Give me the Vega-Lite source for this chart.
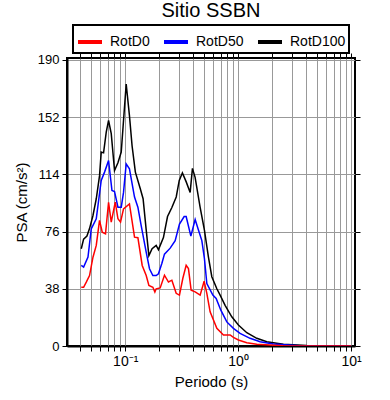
{
"$schema": "https://vega.github.io/schema/vega-lite/v6.json",
"autosize": {"type": "none"},
"width": 288, "height": 288,
"padding": {"left": 67, "top": 58, "right": 35, "bottom": 54},
"background": "white",
"title": {"text": "Sitio SSBN", "fontSize": 20, "font": "Liberation Sans", "fontWeight": "normal", "anchor": "middle", "offset": 3, "color": "black"},
"config": {"view": {"stroke": "black", "strokeWidth": 2}, "font": "Liberation Sans"},
"data": {"values": [
{"c":"RotD100","T":0.0408,"psa":64.6},{"c":"RotD100","T":0.0428,"psa":71},{"c":"RotD100","T":0.0458,"psa":73},{"c":"RotD100","T":0.0483,"psa":78},{"c":"RotD100","T":0.0518,"psa":86.7},{"c":"RotD100","T":0.0554,"psa":97.8},{"c":"RotD100","T":0.0592,"psa":113},{"c":"RotD100","T":0.0613,"psa":128.8},{"c":"RotD100","T":0.0643,"psa":128.3},{"c":"RotD100","T":0.0679,"psa":142},{"c":"RotD100","T":0.0712,"psa":149.8},{"c":"RotD100","T":0.0752,"psa":141},{"c":"RotD100","T":0.0804,"psa":116.6},{"c":"RotD100","T":0.0862,"psa":121.7},{"c":"RotD100","T":0.0922,"psa":128.8},{"c":"RotD100","T":0.102,"psa":174},{"c":"RotD100","T":0.109,"psa":153},{"c":"RotD100","T":0.115,"psa":133},{"c":"RotD100","T":0.123,"psa":115.5},{"c":"RotD100","T":0.136,"psa":104.4},{"c":"RotD100","T":0.144,"psa":97.8},{"c":"RotD100","T":0.153,"psa":78},{"c":"RotD100","T":0.162,"psa":60},{"c":"RotD100","T":0.173,"psa":64.6},{"c":"RotD100","T":0.188,"psa":66.8},{"c":"RotD100","T":0.197,"psa":64},{"c":"RotD100","T":0.218,"psa":72},{"c":"RotD100","T":0.237,"psa":86},{"c":"RotD100","T":0.259,"psa":92},{"c":"RotD100","T":0.283,"psa":99},{"c":"RotD100","T":0.301,"psa":110},{"c":"RotD100","T":0.321,"psa":115},{"c":"RotD100","T":0.347,"psa":109},{"c":"RotD100","T":0.376,"psa":102},{"c":"RotD100","T":0.394,"psa":118},{"c":"RotD100","T":0.416,"psa":112},{"c":"RotD100","T":0.461,"psa":92},{"c":"RotD100","T":0.503,"psa":77},{"c":"RotD100","T":0.546,"psa":59},{"c":"RotD100","T":0.585,"psa":46},{"c":"RotD100","T":0.648,"psa":38},{"c":"RotD100","T":0.693,"psa":33.8},{"c":"RotD100","T":0.767,"psa":27},{"c":"RotD100","T":0.879,"psa":19.4},{"c":"RotD100","T":1.006,"psa":13.9},{"c":"RotD100","T":1.194,"psa":8.8},{"c":"RotD100","T":1.464,"psa":5.1},{"c":"RotD100","T":1.795,"psa":2.8},{"c":"RotD100","T":2.517,"psa":1.1},{"c":"RotD100","T":4.055,"psa":0.3},{"c":"RotD100","T":10,"psa":0.05},
{"c":"RotD50","T":0.0408,"psa":53.5},{"c":"RotD50","T":0.0428,"psa":52.4},{"c":"RotD50","T":0.0468,"psa":59},{"c":"RotD50","T":0.05,"psa":77.8},{"c":"RotD50","T":0.0554,"psa":84.5},{"c":"RotD50","T":0.0613,"psa":110},{"c":"RotD50","T":0.0656,"psa":115.5},{"c":"RotD50","T":0.0712,"psa":123.2},{"c":"RotD50","T":0.0763,"psa":103.3},{"c":"RotD50","T":0.0804,"psa":102.6},{"c":"RotD50","T":0.0862,"psa":92.2},{"c":"RotD50","T":0.0922,"psa":92.2},{"c":"RotD50","T":0.0966,"psa":102},{"c":"RotD50","T":0.102,"psa":121},{"c":"RotD50","T":0.109,"psa":117.7},{"c":"RotD50","T":0.1209,"psa":98.9},{"c":"RotD50","T":0.1295,"psa":92.2},{"c":"RotD50","T":0.1385,"psa":80},{"c":"RotD50","T":0.1534,"psa":62.3},{"c":"RotD50","T":0.1641,"psa":51.3},{"c":"RotD50","T":0.1758,"psa":46.8},{"c":"RotD50","T":0.188,"psa":46.8},{"c":"RotD50","T":0.197,"psa":48},{"c":"RotD50","T":0.2113,"psa":55},{"c":"RotD50","T":0.2227,"psa":61},{"c":"RotD50","T":0.2502,"psa":65},{"c":"RotD50","T":0.277,"psa":70},{"c":"RotD50","T":0.3024,"psa":81},{"c":"RotD50","T":0.3327,"psa":86},{"c":"RotD50","T":0.3466,"psa":86},{"c":"RotD50","T":0.3814,"psa":73},{"c":"RotD50","T":0.4164,"psa":84},{"c":"RotD50","T":0.4453,"psa":77},{"c":"RotD50","T":0.4772,"psa":70},{"c":"RotD50","T":0.5032,"psa":58},{"c":"RotD50","T":0.5284,"psa":41.5},{"c":"RotD50","T":0.5974,"psa":33.8},{"c":"RotD50","T":0.639,"psa":31.6},{"c":"RotD50","T":0.7031,"psa":23.8},{"c":"RotD50","T":0.7943,"psa":16},{"c":"RotD50","T":0.9088,"psa":11.7},{"c":"RotD50","T":1.041,"psa":8.4},{"c":"RotD50","T":1.277,"psa":5.1},{"c":"RotD50","T":1.566,"psa":2.8},{"c":"RotD50","T":2.053,"psa":1.3},{"c":"RotD50","T":3.538,"psa":0.2},{"c":"RotD50","T":10,"psa":0.03},
{"c":"RotD0","T":0.0408,"psa":39},{"c":"RotD0","T":0.0428,"psa":39},{"c":"RotD0","T":0.0452,"psa":42.4},{"c":"RotD0","T":0.0483,"psa":46.8},{"c":"RotD0","T":0.0518,"psa":59},{"c":"RotD0","T":0.0554,"psa":66.8},{"c":"RotD0","T":0.0592,"psa":83.4},{"c":"RotD0","T":0.0626,"psa":75.6},{"c":"RotD0","T":0.0669,"psa":74.5},{"c":"RotD0","T":0.0712,"psa":95.5},{"c":"RotD0","T":0.0752,"psa":82.3},{"c":"RotD0","T":0.0816,"psa":95.5},{"c":"RotD0","T":0.0862,"psa":84.5},{"c":"RotD0","T":0.0909,"psa":82.3},{"c":"RotD0","T":0.0966,"psa":91.1},{"c":"RotD0","T":0.109,"psa":94.4},{"c":"RotD0","T":0.1209,"psa":72.3},{"c":"RotD0","T":0.1295,"psa":71.9},{"c":"RotD0","T":0.1414,"psa":53.5},{"c":"RotD0","T":0.1534,"psa":46.8},{"c":"RotD0","T":0.1621,"psa":40.2},{"c":"RotD0","T":0.1758,"psa":39},{"c":"RotD0","T":0.1831,"psa":35.8},{"c":"RotD0","T":0.188,"psa":38},{"c":"RotD0","T":0.204,"psa":38.6},{"c":"RotD0","T":0.2227,"psa":47},{"c":"RotD0","T":0.2416,"psa":42.5},{"c":"RotD0","T":0.259,"psa":43.7},{"c":"RotD0","T":0.2827,"psa":35},{"c":"RotD0","T":0.3024,"psa":33.8},{"c":"RotD0","T":0.324,"psa":45},{"c":"RotD0","T":0.3466,"psa":53.6},{"c":"RotD0","T":0.3632,"psa":51.4},{"c":"RotD0","T":0.3838,"psa":37},{"c":"RotD0","T":0.4164,"psa":36},{"c":"RotD0","T":0.461,"psa":33.8},{"c":"RotD0","T":0.5001,"psa":43},{"c":"RotD0","T":0.5284,"psa":35},{"c":"RotD0","T":0.565,"psa":22.7},{"c":"RotD0","T":0.648,"psa":11.7},{"c":"RotD0","T":0.7413,"psa":7.3},{"c":"RotD0","T":0.8497,"psa":7.3},{"c":"RotD0","T":0.9088,"psa":5.7},{"c":"RotD0","T":1.006,"psa":4},{"c":"RotD0","T":1.194,"psa":2.2},{"c":"RotD0","T":1.464,"psa":1.1},{"c":"RotD0","T":2.5,"psa":0.2},{"c":"RotD0","T":10,"psa":0.02}
]},
"layer": [
{"mark": {"type": "line", "strokeWidth": 1.5, "clip": true},
 "encoding": {
  "x": {"field": "T", "type": "quantitative",
   "scale": {"type": "log", "domain": [0.0305, 10.85], "nice": false},
   "axis": {"orient": "bottom", "title": "Periodo (s)", "titleFont": "Liberation Sans", "titleFontSize": 15, "titleFontWeight": "normal", "titleColor": "black", "titlePadding": 6,
    "values": [0.04,0.05,0.06,0.07,0.08,0.09,0.1,0.2,0.3,0.4,0.5,0.6,0.7,0.8,0.9,1,2,3,4,5,6,7,8,9,10],
    "labelExpr": "datum.value == 0.1 ? '10⁻¹' : (datum.value == 1 ? '10⁰' : (datum.value == 10 ? '10¹' : ''))",
    "labelFont": "Liberation Sans", "labelFontSize": 14, "labelColor": "black", "labelPadding": 3, "labelOverlap": false, "labelFlush": false,
    "tickColor": "black", "tickSize": 5, "tickWidth": 1, "domainColor": "black", "domainWidth": 2,
    "grid": true, "gridColor": "#999999", "gridWidth": 1}},
  "y": {"field": "psa", "type": "quantitative",
   "scale": {"domain": [0, 191.3], "nice": false, "zero": true},
   "axis": {"orient": "left", "title": "PSA (cm/s²)", "titleFont": "Liberation Sans", "titleFontSize": 15, "titleFontWeight": "normal", "titleColor": "black", "titlePadding": 8,
    "values": [0,38,76,114,152,190], "labelFont": "Liberation Sans", "labelFontSize": 13, "labelColor": "black", "labelPadding": 3,
    "tickColor": "black", "tickSize": 5, "domainColor": "black", "domainWidth": 2,
    "grid": true, "gridColor": "#999999", "gridWidth": 1}},
  "color": {"field": "c", "type": "nominal",
   "scale": {"domain": ["RotD0", "RotD50", "RotD100"], "range": ["#ff0000", "#0000ff", "#000000"]},
   "legend": {"title": null, "orient": "none", "legendX": 6, "legendY": -33, "direction": "horizontal",
    "strokeColor": "black", "padding": 3, "fillColor": "white",
    "symbolType": "stroke", "symbolSize": 576, "symbolStrokeWidth": 4,
    "labelFont": "Liberation Sans", "labelFontSize": 14, "labelColor": "black", "labelOffset": 6, "columnPadding": 6,
    "encode": {"legend": {"update": {"strokeWidth": {"value": 2}}}}}}
 }},
{"mark": {"type": "line", "strokeOpacity": 0},
 "encoding": {
  "x": {"field": "T", "type": "quantitative",
   "axis": {"orient": "top", "title": null, "labels": false, "grid": false, "domain": false,
    "values": [0.04,0.05,0.06,0.07,0.08,0.09,0.1,0.2,0.3,0.4,0.5,0.6,0.7,0.8,0.9,1,2,3,4,5,6,7,8,9,10],
    "tickColor": "black", "tickSize": 5}},
  "y": {"field": "psa", "type": "quantitative",
   "axis": {"orient": "right", "title": null, "labels": false, "grid": false, "domain": false,
    "values": [0,38,76,114,152,190], "tickColor": "black", "tickSize": 5}}
 }}
],
"resolve": {"axis": {"x": "independent", "y": "independent"}}
}
